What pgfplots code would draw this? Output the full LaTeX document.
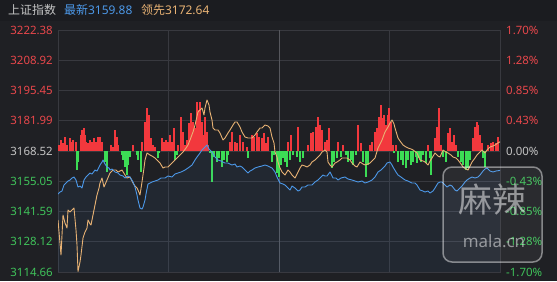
\documentclass[border=0pt]{standalone}
\usepackage{pgfplots}
\pgfplotsset{compat=1.18}
\usepackage{fontspec}
\setmainfont{Noto Sans}
\newfontfamily\cjk{Noto Sans CJK SC}
\definecolor{bgc}{HTML}{1F2024}
\definecolor{titlebg}{HTML}{1B1C20}
\definecolor{gridc}{HTML}{38393F}
\definecolor{gridmid}{HTML}{56575D}
\definecolor{lred}{HTML}{E8474B}
\definecolor{lgreen}{HTML}{3FC25A}
\definecolor{lgray}{HTML}{C4C4C4}
\definecolor{barred}{HTML}{F2383D}
\definecolor{bargreen}{HTML}{3CDC55}
\definecolor{bluel}{HTML}{4C98E8}
\definecolor{orangel}{HTML}{E8B274}
\begin{document}
\begin{tikzpicture}[x=1bp,y=1bp]
\fill[bgc] (0,0) rectangle (557,281);
\fill[titlebg] (0,260) rectangle (557,281);
\useasboundingbox (0,0) rectangle (557,281);
\node[anchor=west,inner sep=0pt,font=\fontsize{12}{14}\selectfont,text=lgray] at (8,271) {\cjk 上证指数};
\node[anchor=west,inner sep=0pt,font=\fontsize{12}{14}\selectfont,text=bluel] at (64,271) {{\cjk 最新}3159.88};
\node[anchor=west,inner sep=0pt,font=\fontsize{12}{14}\selectfont,text=orangel] at (141,271) {{\cjk 领先}3172.64};
% percent axis: grid, bars, right labels
\begin{axis}[
  at={(58bp,9bp)}, anchor=south west, scale only axis,
  width=442bp, height=242bp,
  xmin=58, xmax=500, ymin=-1.70, ymax=1.70,
  axis line style={draw=gridc, line width=0.8bp},
  major tick length=0pt,
  xtick={168.5,389.5}, xticklabels={},
  extra x ticks={279}, extra x tick labels={},
  extra x tick style={grid style={draw=gridmid, line width=1bp}},
  ytick={-1.70,-1.275,-0.85,-0.425,0,0.425,0.85,1.275,1.70},
  yticklabels={\textcolor{lgreen}{-1.70\%},\textcolor{lgreen}{-1.28\%},\textcolor{lgreen}{-0.85\%},\textcolor{lgreen}{-0.43\%},\textcolor{lgray}{0.00\%},\textcolor{lred}{0.43\%},\textcolor{lred}{0.85\%},\textcolor{lred}{1.28\%},\textcolor{lred}{1.70\%}},
  yticklabel pos=right,
  yticklabel style={anchor=west, inner sep=0pt, xshift=6bp, font=\fontsize{11.5}{13}\selectfont},
  grid=major, grid style={draw=gridc, line width=0.8bp},
]
\addplot[ycomb, color=barred, line width=1.2bp, no markers] coordinates {
(59,0.084)(61,0.155)(63,0.112)(65,0.197)(67,0.084)(70,0.183)(72,0.126)(73,0.155)(76,0.126)
(81,0.225)(82,0.295)(84,0.323)(85,0.225)(86,0.126)(88,0.112)(90,0.155)(92,0.126)(94,0.183)
(96,0.126)(98,0.197)(100,0.197)(102,0.126)(111,0.084)(113,0.056)(115,0.295)(117,0.197)(118,0.084)
(133,0.084)(142,0.126)(145,0.407)(147,0.604)(149,0.506)(151,0.183)(153,0.084)(155,0.056)
(162,0.183)(164,0.126)(166,0.155)(168,0.126)(170,0.225)(172,0.126)(174,0.323)(178,0.084)
(181,0.478)(183,0.267)(185,0.084)(187,0.155)(189,0.393)(191,0.534)(193,0.407)(195,0.323)
(197,0.688)(198,0.576)(200,0.688)(202,0.407)(203,0.225)(205,0.478)(207,0.267)(208,0.084)
(230,0.126)(232,0.267)(235,0.126)(237,0.112)(240,0.225)(243,0.126)(247,0.056)(252,0.225)
(254,0.197)(257,0.253)(259,0.197)(262,0.183)(264,0.253)(266,0.112)(268,0.197)(288,0.126)
(291,0.225)(298,0.337)(308,0.084)(311,0.253)(313,0.267)(316,0.337)(318,0.478)(320,0.365)
(322,0.295)(325,0.126)(327,0.155)(329,0.323)(338,0.126)(343,0.084)(358,0.365)(361,0.112)
(370,0.084)(372,0.126)(375,0.267)(377,0.323)(379,0.478)(381,0.646)(383,0.464)(384,0.506)
(386,0.365)(388,0.506)(389,0.604)(391,0.407)(393,0.084)(396,0.084)(428,0.084)(435,0.183)
(437,0.337)(439,0.604)(441,0.084)(448,0.253)(450,0.323)(452,0.126)(454,0.225)(456,0.084)
(473,0.183)(475,0.337)(477,0.407)(478,0.365)(480,0.225)(482,0.112)(488,0.084)(491,0.112)
(493,0.126)(496,0.112)(498,0.197)
};
\addplot[ycomb, color=bargreen, line width=1.2bp, no markers] coordinates {
(77,-0.267)(78,-0.155)(105,-0.155)(107,-0.295)(122,-0.056)(123,-0.126)(125,-0.225)(127,-0.337)
(128,-0.197)(130,-0.084)(137,-0.056)(138,-0.126)(141,-0.295)(158,-0.098)(159,-0.028)(175,-0.126)
(177,-0.056)(210,-0.028)(212,-0.436)(214,-0.084)(217,-0.155)(219,-0.098)(222,-0.225)(224,-0.126)
(227,-0.155)(228,-0.056)(248,-0.098)(272,-0.155)(274,-0.056)(277,-0.309)(279,-0.365)(281,-0.197)
(283,-0.098)(285,-0.155)(287,-0.225)(290,-0.126)(293,-0.056)(297,-0.084)(300,-0.155)(303,-0.098)
(332,-0.239)(334,-0.155)(337,-0.098)(341,-0.084)(346,-0.056)(348,-0.155)(351,-0.126)(353,-0.197)
(356,-0.056)(363,-0.155)(366,-0.365)(368,-0.197)(394,-0.028)(398,-0.155)(401,-0.126)(403,-0.197)
(406,-0.239)(408,-0.126)(411,-0.197)(413,-0.155)(416,-0.084)(417,-0.169)(419,-0.098)(421,-0.155)
(423,-0.056)(426,-0.169)(430,-0.098)(431,-0.337)(443,-0.084)(446,-0.155)(458,-0.084)(461,-0.155)
(463,-0.197)(466,-0.267)(468,-0.239)(470,-0.126)(483,-0.098)(485,-0.225)
};
\end{axis}
% price axis: lines, left labels
\begin{axis}[
  at={(58bp,9bp)}, anchor=south west, scale only axis,
  width=442bp, height=242bp,
  xmin=58, xmax=500, ymin=3114.66, ymax=3222.38,
  axis line style={draw=none},
  major tick length=0pt,
  xtick=\empty,
  ytick={3114.66,3128.12,3141.59,3155.05,3168.52,3181.99,3195.45,3208.92,3222.38},
  yticklabels={\textcolor{lgreen}{3114.66},\textcolor{lgreen}{3128.12},\textcolor{lgreen}{3141.59},\textcolor{lgreen}{3155.05},\textcolor{lgray}{3168.52},\textcolor{lred}{3181.99},\textcolor{lred}{3195.45},\textcolor{lred}{3208.92},\textcolor{lred}{3222.38}},
  yticklabel style={anchor=east, inner sep=0pt, xshift=-5bp, font=\fontsize{11.5}{13}\selectfont},
]
\pgfplotstableread{
x y
58 3149.37
60 3150.26
62 3150.71
64 3153.38
66 3154.27
68 3155.16
70 3155.61
72 3156.50
74 3156.94
76 3155.61
78 3152.49
80 3152.94
82 3152.05
84 3155.61
86 3156.94
88 3157.83
90 3158.72
92 3158.28
95 3160.06
97 3159.61
100 3162.28
102 3163.62
103 3164.51
105 3162.73
107 3161.39
109 3160.95
110 3160.06
112 3160.50
115 3159.17
118 3158.72
120 3157.83
123 3157.39
125 3156.50
128 3157.39
130 3156.94
133 3154.72
135 3152.49
137 3148.93
138 3146.70
140 3143.14
142 3142.70
143 3143.59
145 3146.70
146 3149.37
148 3153.83
150 3154.27
152 3154.72
155 3155.16
158 3155.61
161 3156.50
165 3156.50
168 3157.39
172 3156.94
175 3158.28
178 3158.72
181 3159.17
185 3160.06
188 3160.95
192 3162.28
195 3164.51
197 3165.85
200 3167.63
202 3168.96
205 3170.30
207 3171.19
209 3169.41
212 3168.07
215 3165.85
218 3164.51
221 3164.06
225 3163.17
228 3163.17
232 3162.28
235 3162.73
237 3161.39
240 3161.84
242 3161.39
245 3160.06
248 3158.72
250 3159.61
252 3160.06
255 3160.95
258 3161.39
262 3161.84
265 3162.28
268 3161.84
272 3160.95
275 3159.17
277 3156.94
280 3154.27
283 3153.83
285 3153.38
288 3152.05
290 3151.16
292 3152.94
295 3152.05
298 3150.71
300 3151.16
302 3152.49
305 3152.49
308 3153.38
312 3153.38
315 3154.72
318 3155.61
321 3156.94
323 3157.83
325 3157.39
327 3157.39
330 3159.17
333 3156.50
336 3156.50
338 3155.61
341 3156.50
345 3156.94
348 3156.05
352 3155.61
355 3155.16
358 3154.72
362 3155.16
365 3154.27
368 3154.72
372 3155.61
375 3156.94
378 3159.17
381 3160.06
383 3160.95
385 3161.84
387 3163.17
390 3163.62
392 3162.28
393 3161.39
396 3159.17
398 3157.83
401 3156.94
405 3155.61
408 3155.16
412 3154.27
415 3154.27
417 3153.38
420 3151.16
423 3150.71
425 3150.26
428 3150.71
430 3149.82
433 3150.71
435 3152.05
438 3154.27
440 3154.72
442 3154.72
445 3153.38
447 3152.49
450 3153.38
452 3152.94
455 3151.16
457 3150.71
460 3152.05
462 3152.94
465 3154.72
467 3155.61
470 3156.50
472 3156.94
475 3156.50
478 3156.94
480 3157.83
483 3159.61
485 3160.50
487 3160.95
490 3159.61
493 3159.17
496 3159.61
500 3159.88
}\bluedata
\addplot[draw=none, fill=bluel, fill opacity=0.07] table[x=x,y=y] {\bluedata} \closedcycle;
\addplot[draw=orangel, line width=0.9bp, no markers, line join=round] coordinates {
(58,3137.81)(61,3122.23)(63,3140.03)(65,3136.47)(67,3134.24)(68,3142.26)(70,3141.37)(72,3142.26)
(74,3143.15)(76,3133.35)(77,3126.68)(78,3114.90)(80,3119.11)(81,3122.23)(83,3129.79)(85,3132.46)
(87,3134.24)(88,3137.81)(90,3136.03)(91,3135.58)(93,3140.03)(95,3144.48)(97,3148.93)(99,3152.05)
(100,3154.28)(102,3156.50)(104,3152.50)(107,3155.61)(110,3158.73)(113,3160.06)(116,3160.06)
(118,3159.17)(120,3159.62)(122,3160.06)(125,3157.84)(127,3156.50)(130,3156.95)(133,3154.28)
(135,3152.94)(137,3152.05)(138,3151.16)(140,3148.93)(142,3154.72)(144,3160.95)(145,3164.51)
(147,3167.63)(150,3166.74)(152,3166.29)(155,3165.40)(158,3164.07)(160,3163.18)(163,3160.95)
(165,3161.40)(168,3161.40)(170,3162.29)(173,3163.62)(175,3164.51)(178,3165.85)(180,3166.74)
(183,3168.07)(186,3169.86)(188,3171.19)(190,3173.42)(193,3176.98)(195,3180.09)(198,3185.88)
(200,3186.77)(202,3187.66)(204,3184.54)(205,3187.66)(207,3191.22)(209,3189.00)(210,3185.88)
(212,3182.32)(213,3178.76)(215,3177.87)(218,3177.87)(220,3176.53)(223,3173.42)(225,3174.31)
(228,3176.53)(230,3177.87)(233,3180.09)(235,3181.43)(237,3181.43)(240,3179.20)(242,3176.98)
(245,3174.75)(248,3174.31)(252,3174.31)(255,3175.64)(257,3176.98)(260,3178.76)(262,3178.76)
(265,3180.09)(268,3179.65)(270,3178.76)(272,3174.75)(274,3172.08)(275,3168.07)(277,3165.85)
(278,3163.62)(280,3160.95)(282,3159.17)(285,3157.84)(288,3160.06)(290,3159.17)(292,3157.84)
(295,3156.50)(298,3159.17)(300,3160.95)(302,3162.29)(305,3161.84)(307,3161.40)(310,3162.29)
(312,3163.62)(315,3164.51)(317,3165.40)(320,3166.74)(322,3168.07)(325,3168.97)(327,3168.07)
(328,3163.62)(330,3162.29)(332,3161.40)(335,3163.18)(337,3163.62)(340,3164.51)(342,3165.40)
(345,3165.40)(347,3165.40)(350,3164.51)(352,3163.18)(355,3161.84)(357,3161.40)(360,3163.62)
(363,3162.73)(365,3162.29)(368,3162.73)(370,3163.18)(372,3164.07)(375,3165.40)(378,3169.86)
(380,3171.64)(382,3173.42)(385,3176.98)(388,3179.20)(390,3180.98)(392,3182.32)(394,3180.54)
(395,3178.76)(398,3174.31)(400,3172.97)(403,3171.19)(406,3170.30)(408,3169.86)(411,3169.41)
(413,3168.97)(417,3167.63)(420,3164.51)(423,3164.07)(425,3163.62)(428,3162.29)(430,3164.07)
(432,3165.40)(435,3167.63)(438,3166.29)(440,3165.85)(443,3168.97)(446,3168.07)(448,3167.63)
(451,3166.74)(453,3165.85)(456,3165.40)(458,3164.51)(461,3162.73)(463,3161.40)(466,3160.51)
(468,3160.06)(470,3161.84)(472,3163.62)(475,3165.40)(477,3166.74)(480,3168.07)(482,3168.97)
(485,3167.63)(487,3168.97)(490,3170.30)(493,3170.75)(495,3171.19)(498,3172.08)(500,3172.64)
};
\addplot[draw=bluel, line width=0.9bp, no markers, line join=round] table[x=x,y=y] {\bluedata};
\end{axis}
% watermark
\draw[draw=white, draw opacity=0.45, fill=white, fill opacity=0.05, line width=1.5bp, rounded corners=9bp] (443,19) rectangle (542,114);
\node[text=white, text opacity=0.5, inner sep=0pt, font=\fontsize{34}{36}\selectfont] at (492,81) {\cjk 麻辣};
\node[text=white, text opacity=0.5, inner sep=0pt, font=\fontsize{17}{19}\selectfont] at (494,40) {mala.cn};
\end{tikzpicture}
\end{document}
